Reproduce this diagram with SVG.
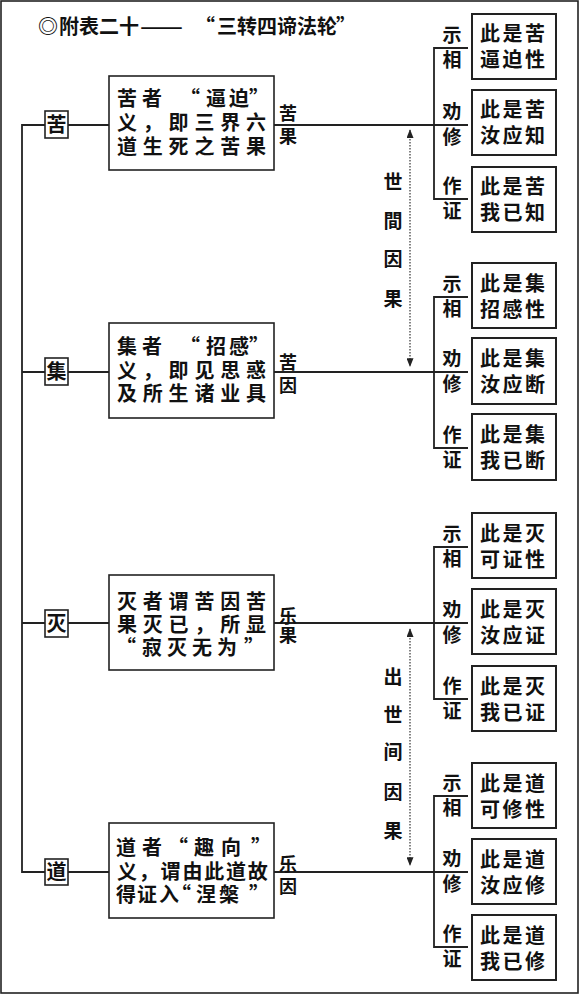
<svg xmlns="http://www.w3.org/2000/svg" width="580" height="994" viewBox="0 0 580 994">
<style>
text { font-family: "Noto Sans CJK SC", "Noto Sans CJK TC", sans-serif; font-weight: 700; fill: #111; }
.title { font-size: 20px; }
.m { font-size: 20px; }
.m6 { letter-spacing: 5.8px; }
.m7 { letter-spacing: 1.8px; }
.r { font-size: 20px; letter-spacing: 2.5px; }
.s { font-size: 20px; text-anchor: middle; }
.t { font-size: 19px; text-anchor: middle; }
.d { font-size: 18px; text-anchor: middle; }
.v { font-size: 19px; text-anchor: middle; }
.box { fill: #fff; stroke: #222; stroke-width: 1.6; }
.rbox { fill: #fff; stroke: #222; stroke-width: 2; }
.ln { fill: none; stroke: #222; stroke-width: 1.8; }
.dot { fill: none; stroke: #333; stroke-width: 1.2; stroke-dasharray: 1.5 1.5; }
</style>
<defs>
<marker id="ah" viewBox="0 0 10 8" refX="9" refY="4" markerWidth="9" markerHeight="7" markerUnits="userSpaceOnUse" orient="auto-start-reverse">
<path d="M0,0 L10,4 L0,8 Z" fill="#222"/>
</marker>
</defs>
<rect x="1" y="1" width="577" height="992" fill="#fff" stroke="#222" stroke-width="1.6"/>
<text id="title" class="title" x="38 59 79 99 119" y="34">◎附表二十<tspan x="140" textLength="43" lengthAdjust="spacingAndGlyphs">——</tspan><tspan x="195 217 237 257 277 297 317 336">“三转四谛法轮”</tspan></text>

<g id="connectors">
<path class="ln" d="M45,125 H22 V872 H45 M22,372 H45 M22,623 H45"/>
<path class="ln" d="M68,125 H109 M68,372 H109 M68,623 H109 M68,872 H109"/>
<path class="ln" d="M274,125 H468 M274,372 H468 M274,623 H468 M274,872 H468"/>
<path class="ln" d="M468,48 H434 V199 H468"/>
<path class="ln" d="M468,297 H434 V448 H468"/>
<path class="ln" d="M468,547 H434 V699 H468"/>
<path class="ln" d="M468,796 H434 V947 H468"/>
<path class="dot" d="M410,130 V366" marker-start="url(#ah)" marker-end="url(#ah)"/>
<path class="dot" d="M410,629 V865" marker-start="url(#ah)" marker-end="url(#ah)"/>
</g>

<g id="label-shijian">
<text class="v" x="393" y="189">世</text>
<text class="v" x="393" y="228">間</text>
<text class="v" x="393" y="266">因</text>
<text class="v" x="393" y="306">果</text>
</g>
<g id="label-chushijian">
<text class="v" x="393" y="684">出</text>
<text class="v" x="393" y="722">世</text>
<text class="v" x="393" y="759">间</text>
<text class="v" x="393" y="799">因</text>
<text class="v" x="393" y="838">果</text>
</g>

<!-- 苦 row -->
<g id="ku-label"><rect class="box" x="45" y="111" width="23" height="27"/><text class="s" x="56.5" y="132">苦</text></g>
<g id="ku-box"><rect class="box" x="109" y="76" width="165" height="94"/>
<text class="m" x="117 142 180 206 229 249" y="106">苦者“逼迫”</text>
<text class="m m6" x="117" y="130">义，即三界六</text>
<text class="m m6" x="117" y="154">道生死之苦果</text></g>
<g id="ku-side"><text class="d" x="288" y="119.5">苦</text><text class="d" x="288" y="142.5">果</text></g>
<g id="ku-tags"><text class="t" x="452" y="42">示</text><text class="t" x="452" y="67">相</text>
<text class="t" x="452" y="119">劝</text><text class="t" x="452" y="144">修</text>
<text class="t" x="452" y="193">作</text><text class="t" x="452" y="218">证</text></g>
<g id="ku-1"><rect class="rbox" x="472" y="14" width="84" height="65"/><text class="r" x="480" y="41">此是苦</text><text class="r" x="480" y="67">逼迫性</text></g>
<g id="ku-2"><rect class="rbox" x="472" y="90" width="84" height="65"/><text class="r" x="480" y="117">此是苦</text><text class="r" x="480" y="143">汝应知</text></g>
<g id="ku-3"><rect class="rbox" x="472" y="167" width="84" height="65"/><text class="r" x="480" y="194">此是苦</text><text class="r" x="480" y="220">我已知</text></g>

<!-- 集 row -->
<g id="ji-label"><rect class="box" x="45" y="358" width="23" height="27"/><text class="s" x="56.5" y="379">集</text></g>
<g id="ji-box"><rect class="box" x="109" y="323" width="165" height="95"/>
<text class="m" x="117 142 180 206 229 249" y="354">集者“招感”</text>
<text class="m m6" x="117" y="378">义，即见思惑</text>
<text class="m m6" x="117" y="401">及所生诸业具</text></g>
<g id="ji-side"><text class="d" x="288" y="368.5">苦</text><text class="d" x="288" y="391.5">因</text></g>
<g id="ji-tags"><text class="t" x="452" y="291">示</text><text class="t" x="452" y="316">相</text>
<text class="t" x="452" y="366">劝</text><text class="t" x="452" y="391">修</text>
<text class="t" x="452" y="442">作</text><text class="t" x="452" y="467">证</text></g>
<g id="ji-1"><rect class="rbox" x="472" y="263" width="84" height="65"/><text class="r" x="480" y="291">此是集</text><text class="r" x="480" y="317">招感性</text></g>
<g id="ji-2"><rect class="rbox" x="472" y="338" width="84" height="66"/><text class="r" x="480" y="366">此是集</text><text class="r" x="480" y="392">汝应断</text></g>
<g id="ji-3"><rect class="rbox" x="472" y="414" width="84" height="66"/><text class="r" x="480" y="442">此是集</text><text class="r" x="480" y="468">我已断</text></g>

<!-- 灭 row -->
<g id="mie-label"><rect class="box" x="45" y="610" width="23" height="27"/><text class="s" x="56.5" y="631">灭</text></g>
<g id="mie-box"><rect class="box" x="109" y="575" width="165" height="95"/>
<text class="m m6" x="117" y="609">灭者谓苦因苦</text>
<text class="m m6" x="117" y="632">果灭已，所显</text>
<text class="m" x="116 142 167 192 217 244" y="655">“寂灭无为”</text></g>
<g id="mie-side"><text class="d" x="288" y="623">乐</text><text class="d" x="288" y="642">果</text></g>
<g id="mie-tags"><text class="t" x="452" y="541">示</text><text class="t" x="452" y="566">相</text>
<text class="t" x="452" y="617">劝</text><text class="t" x="452" y="642">修</text>
<text class="t" x="452" y="693">作</text><text class="t" x="452" y="718">证</text></g>
<g id="mie-1"><rect class="rbox" x="472" y="513" width="84" height="65"/><text class="r" x="480" y="541">此是灭</text><text class="r" x="480" y="567">可证性</text></g>
<g id="mie-2"><rect class="rbox" x="472" y="589" width="84" height="65"/><text class="r" x="480" y="617">此是灭</text><text class="r" x="480" y="643">汝应证</text></g>
<g id="mie-3"><rect class="rbox" x="472" y="666" width="84" height="65"/><text class="r" x="480" y="694">此是灭</text><text class="r" x="480" y="720">我已证</text></g>

<!-- 道 row -->
<g id="dao-label"><rect class="box" x="45" y="859" width="23" height="26"/><text class="s" x="56.5" y="879">道</text></g>
<g id="dao-box"><rect class="box" x="109" y="823" width="165" height="95"/>
<text class="m" x="116 142 168 194 221 251" y="855">道者“趣向”</text>
<text class="m m7" x="117" y="879">义，谓由此道故</text>
<text class="m" x="116 137 159 171 196 219 249" y="902">得证入“涅槃”</text></g>
<g id="dao-side"><text class="d" x="288" y="871">乐</text><text class="d" x="288" y="893">因</text></g>
<g id="dao-tags"><text class="t" x="452" y="790">示</text><text class="t" x="452" y="815">相</text>
<text class="t" x="452" y="866">劝</text><text class="t" x="452" y="891">修</text>
<text class="t" x="452" y="941">作</text><text class="t" x="452" y="966">证</text></g>
<g id="dao-1"><rect class="rbox" x="472" y="763" width="84" height="65"/><text class="r" x="480" y="791">此是道</text><text class="r" x="480" y="817">可修性</text></g>
<g id="dao-2"><rect class="rbox" x="472" y="839" width="84" height="65"/><text class="r" x="480" y="867">此是道</text><text class="r" x="480" y="893">汝应修</text></g>
<g id="dao-3"><rect class="rbox" x="472" y="915" width="84" height="65"/><text class="r" x="480" y="943">此是道</text><text class="r" x="480" y="969">我已修</text></g>
</svg>
